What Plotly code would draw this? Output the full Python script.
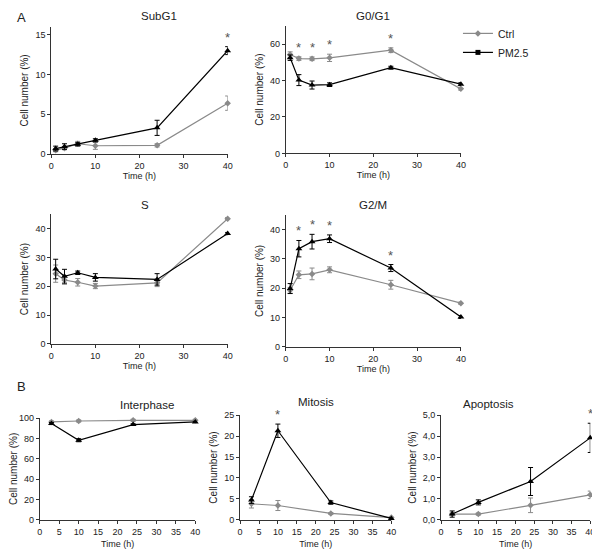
import plotly.graph_objects as go

# ---------------- data ----------------
t_A = [1, 3, 6, 10, 24, 40]
t_B = [3, 10, 24, 40]

subg1_ctrl = [0.5, 0.75, 1.3, 1.05, 1.1, 6.4]
subg1_ctrl_err = [0.2, 0.2, 0.3, 0.45, 0.2, 0.9]
subg1_pm = [0.7, 0.95, 1.23, 1.73, 3.3, 13.0]
subg1_pm_err = [0.3, 0.35, 0.2, 0.2, 0.95, 0.5]
subg1_star = [40]

g0_ctrl = [54.2, 52.0, 51.9, 52.4, 56.6, 35.4]
g0_ctrl_err = [1.5, 1.0, 1.0, 2.0, 1.3, 0.8]
g0_pm = [52.5, 40.2, 37.5, 37.7, 47.0, 38.0]
g0_pm_err = [1.5, 3.0, 2.2, 1.0, 0.8, 0.8]
g0_star = [3, 6, 10, 24]

s_ctrl = [24.4, 22.2, 21.4, 20.1, 21.2, 43.5]
s_ctrl_err = [3.0, 1.5, 1.3, 0.9, 1.3, 0.4]
s_pm = [26.0, 23.5, 24.7, 23.1, 22.4, 38.3]
s_pm_err = [3.4, 2.4, 0.6, 1.3, 2.0, 0.4]

g2_ctrl = [19.3, 24.6, 24.9, 26.3, 21.2, 14.9]
g2_ctrl_err = [1.0, 1.3, 2.0, 1.0, 1.5, 0.4]
g2_pm = [19.9, 33.5, 35.9, 36.9, 26.9, 10.2]
g2_pm_err = [1.7, 2.8, 2.5, 1.3, 1.2, 0.5]
g2_star = [3, 6, 10, 24]

inter_ctrl = [96.2, 97.1, 97.8, 97.8]
inter_ctrl_err = [1.0, 1.0, 1.0, 1.0]
inter_pm = [94.6, 78.2, 93.6, 96.2]
inter_pm_err = [1.0, 1.5, 0.8, 0.6]

mit_ctrl = [3.8, 3.4, 1.5, 0.5]
mit_ctrl_err = [1.0, 1.2, 0.2, 0.2]
mit_pm = [4.7, 21.3, 4.1, 0.3]
mit_pm_err = [0.8, 1.6, 0.4, 0.2]
mit_star = [10]

apo_ctrl = [0.27, 0.27, 0.69, 1.19]
apo_ctrl_err = [0.05, 0.05, 0.35, 0.18]
apo_pm = [0.27, 0.83, 1.83, 3.92]
apo_pm_err = [0.15, 0.12, 0.67, 0.7]
apo_star = [40]
apo_ticks = [0, 1, 2, 3, 4, 5]
apo_ticktext = ["0,0", "1,0", "2,0", "3,0", "4,0", "5,0"]

# ---------------- style ----------------
W, H = 600, 555
OFF = 8  # page body margin offset in the browser
GRAY = "#8a8a8a"
BLACK = "#000000"
FONT = "Liberation Sans, Arial, sans-serif"
TXT = "#222222"


def fx(px):
    return (px - OFF) / W


def fy(py):
    return 1 - (py - OFF) / H


panels = [
    dict(title="SubG1", ty=11, t=t_A, c=subg1_ctrl, ce=subg1_ctrl_err, p=subg1_pm, pe=subg1_pm_err,
         stars=subg1_star, xd=(45, 225), yd=(22, 151.7), yr=[0, 16], ydt=5, xdt=10, so=2),
    dict(title="G0/G1", ty=11, t=t_A, c=g0_ctrl, ce=g0_ctrl_err, p=g0_pm, pe=g0_pm_err,
         stars=g0_star, xd=(284.3, 463), yd=(21, 151), yr=[0, 70], ydt=20, xdt=10, so=2),
    dict(title="S", ty=204, t=t_A, c=s_ctrl, ce=s_ctrl_err, p=s_pm, pe=s_pm_err,
         stars=[], xd=(45, 225), yd=(213, 345), yr=[0, 45], ydt=10, xdt=10, so=2),
    dict(title="G2/M", ty=204, t=t_A, c=g2_ctrl, ce=g2_ctrl_err, p=g2_pm, pe=g2_pm_err,
         stars=g2_star, xd=(284.3, 463), yd=(213.7, 348), yr=[0, 45], ydt=10, xdt=10, so=2),
    dict(title="Interphase", ty=407, t=t_B, c=inter_ctrl, ce=inter_ctrl_err, p=inter_pm, pe=inter_pm_err,
         stars=[], xd=(33.3, 192), yd=(420.5, 524), yr=[0, 100], ydt=20, xdt=5, so=5),
    dict(title="Mitosis", ty=404.5, t=t_B, c=mit_ctrl, ce=mit_ctrl_err, p=mit_pm, pe=mit_pm_err,
         stars=mit_star, xd=(237.7, 392), yd=(417.7, 524), yr=[0, 25], ydt=5, xdt=5, so=5),
    dict(title="Apoptosis", ty=406, t=t_B, c=apo_ctrl, ce=apo_ctrl_err, p=apo_pm, pe=apo_pm_err,
         stars=apo_star, xd=(442.7, 595), yd=(417.7, 524), yr=[0, 5], ydt=1, xdt=5, so=5,
         ytv=apo_ticks, ytt=apo_ticktext),
]

fig = go.Figure()
layout = dict(width=W, height=H, margin=dict(l=0, r=0, t=0, b=0),
              paper_bgcolor="white", plot_bgcolor="white",
              font=dict(family=FONT, size=9, color=TXT), showlegend=True)
annotations = []

for i, p in enumerate(panels):
    k = "" if i == 0 else str(i + 1)
    xa, ya = "x" + k, "y" + k
    for name, vals, errs, col, sym, size in [
        ("Ctrl", p["c"], p["ce"], GRAY, "diamond", 5),
        ("PM2.5", p["p"], p["pe"], BLACK, "triangle-up", 6),
    ]:
        fig.add_trace(go.Scatter(
            x=p["t"], y=vals, mode="lines+markers", name=name, showlegend=False,
            line=dict(color=col, width=1.2),
            marker=dict(color=col, symbol=sym, size=size),
            error_y=dict(type="data", array=errs, visible=True, color=col, thickness=1, width=2.5),
            cliponaxis=False, xaxis=xa, yaxis=ya, hoverinfo="skip"))
    ax_common = dict(showgrid=False, zeroline=False, showline=True, linecolor="#333",
                     linewidth=1, ticks="outside", ticklen=3, tickcolor="#333",
                     tickfont=dict(size=9, color=TXT), fixedrange=True)
    layout["xaxis" + k] = dict(ax_common, domain=[fx(p["xd"][0]), fx(p["xd"][1])],
                               range=[0, 40], dtick=p["xdt"], tick0=0, anchor=ya,
                               title=dict(text="Time (h)", font=dict(size=9, color=TXT),
                                          standoff=p["so"]))
    yax = dict(ax_common, domain=[fy(p["yd"][1]), fy(p["yd"][0])], range=p["yr"], anchor=xa,
               title=dict(text="Cell number (%)", font=dict(size=10, color=TXT), standoff=4))
    if "ytv" in p:
        yax.update(tickmode="array", tickvals=p["ytv"], ticktext=p["ytt"])
    else:
        yax.update(dtick=p["ydt"], tick0=0)
    layout["yaxis" + k] = yax
    cx = fx((p["xd"][0] + p["xd"][1]) / 2)
    annotations.append(dict(text=p["title"], x=cx, y=fy(p["ty"]),
                            xref="paper", yref="paper", showarrow=False,
                            font=dict(size=11.5, color=TXT), yanchor="middle"))
    for s in p["stars"]:
        j = p["t"].index(s)
        top = max(p["c"][j] + p["ce"][j], p["p"][j] + p["pe"][j])
        annotations.append(dict(text="*", x=s, y=top, xref=xa, yref=ya, showarrow=False,
                                yanchor="bottom", yshift=0,
                                font=dict(size=13, color="#555")))

# legend-only traces
fig.add_trace(go.Scatter(x=[None], y=[None], mode="lines+markers", name="Ctrl",
                         line=dict(color=GRAY, width=1.2),
                         marker=dict(color=GRAY, symbol="diamond", size=5)))
fig.add_trace(go.Scatter(x=[None], y=[None], mode="lines+markers", name="PM2.5",
                         line=dict(color=BLACK, width=1.2),
                         marker=dict(color=BLACK, symbol="square", size=5)))

annotations.append(dict(text="A", x=fx(8), y=fy(12.5), xref="paper", yref="paper",
                        showarrow=False, xanchor="left", yanchor="middle",
                        font=dict(size=13, color=TXT)))
annotations.append(dict(text="B", x=fx(8), y=fy(388), xref="paper", yref="paper",
                        showarrow=False, xanchor="left", yanchor="middle",
                        font=dict(size=13, color=TXT)))

layout["annotations"] = annotations
layout["legend"] = dict(x=fx(460), y=fy(14), xanchor="left", yanchor="top",
                        font=dict(size=10.5, color=TXT), bgcolor="rgba(0,0,0,0)",
                        itemwidth=30)
fig.update_layout(**layout)
fig.write_html("out.html")
